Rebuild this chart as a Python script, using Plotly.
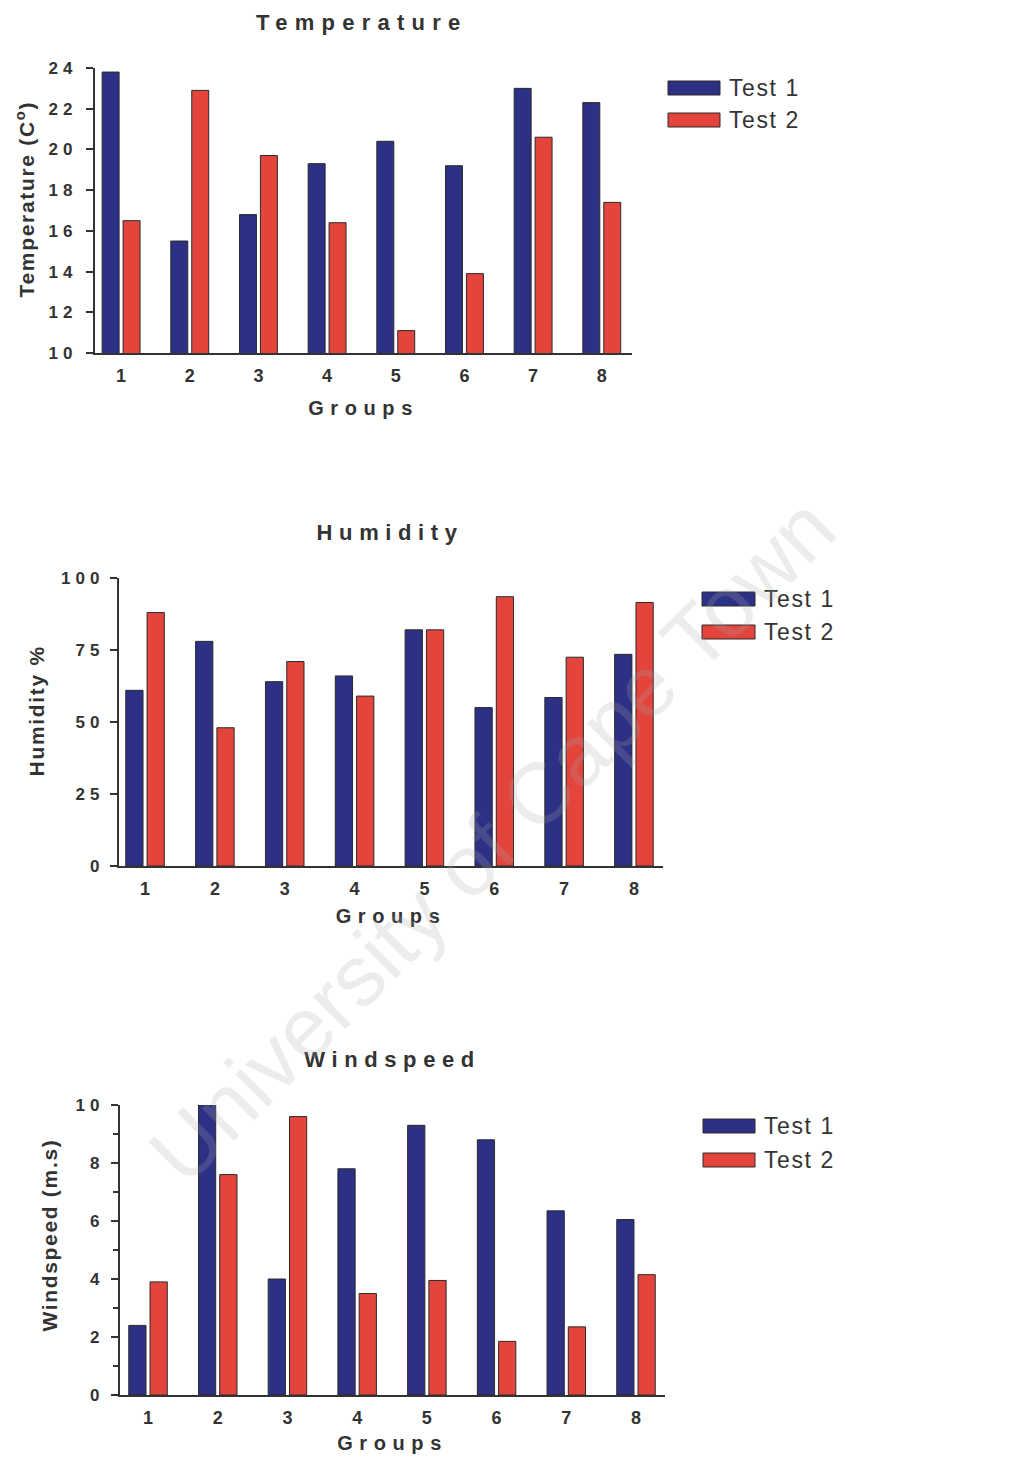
import plotly.graph_objects as go

# ---------------- data ----------------
groups = [1, 2, 3, 4, 5, 6, 7, 8]
series_names = ["Test 1", "Test 2"]

temp_test1 = [23.8, 15.5, 16.8, 19.3, 20.4, 19.2, 23.0, 22.3]
temp_test2 = [16.5, 22.9, 19.7, 16.4, 11.1, 13.9, 20.6, 17.4]

hum_test1 = [61, 78, 64, 66, 82, 55, 58.5, 73.5]
hum_test2 = [88, 48, 71, 59, 82, 93.5, 72.5, 91.5]

wind_test1 = [2.4, 10.0, 4.0, 7.8, 9.3, 8.8, 6.35, 6.05]
wind_test2 = [3.9, 7.6, 9.6, 3.5, 3.95, 1.85, 2.35, 4.15]

chart_titles = ["Temperature", "Humidity", "Windspeed"]
y_titles = ["Temperature (C<sup>o</sup>)", "Humidity %", "Windspeed (m.s)"]
x_title = "Groups"

# ---------------- style ----------------
W, H = 1030, 1457
BLUE = "#2c3186"
RED = "#e3453d"
EDGE = "#2a2a2a"
TXT = "#333333"
FONT = "Liberation Sans, Arial, sans-serif"


def xp(px):
    return px / W


def yp(py):
    return 1 - py / H


panels = [
    dict(vals=(temp_test1, temp_test2), xd=(95, 632), yd=(68, 353), xr=(0.62, 8.44),
         yr=(10, 24), dtick=2, minor=None, title_xy=(362, 22), ytitle_xy=(25, 199),
         xt_standoff=16, leg=(668, 720, 88, 120), tls=5),
    dict(vals=(hum_test1, hum_test2), xd=(119, 663), yd=(578, 866), xr=(0.627, 8.416),
         yr=(0, 100), dtick=25, minor=None, title_xy=(390, 532), ytitle_xy=(36, 711),
         xt_standoff=11, leg=(702, 755, 599, 632), tls=2),
    dict(vals=(wind_test1, wind_test2), xd=(120, 665), yd=(1105, 1395), xr=(0.598, 8.416),
         yr=(0, 10), dtick=2, minor=1, title_xy=(392, 1059), ytitle_xy=(49, 1235),
         xt_standoff=9, leg=(703, 755, 1126, 1160), tls=3),
]

fig = go.Figure()
annotations = []
shapes = []
layout = {}

for i, p in enumerate(panels):
    sfx = "" if i == 0 else str(i + 1)
    xa, ya = "x" + sfx, "y" + sfx
    for name, vals, col in zip(series_names, p["vals"], (BLUE, RED)):
        fig.add_trace(go.Bar(
            x=groups, y=vals, name=name, xaxis=xa, yaxis=ya,
            marker=dict(color=col, line=dict(color=EDGE, width=1)),
            showlegend=False, hoverinfo="skip"))

    layout["xaxis" + sfx] = dict(
        domain=[xp(p["xd"][0]), xp(p["xd"][1])], range=list(p["xr"]), anchor=ya,
        tickmode="array", tickvals=groups, ticktext=[str(g) for g in groups],
        ticks="", showline=True, linewidth=2, linecolor=TXT, showgrid=False,
        zeroline=False, fixedrange=True, ticklabelstandoff=5,
        tickfont=dict(family=FONT, size=18, color=TXT, weight="bold"),
        title=dict(text=x_title, standoff=p["xt_standoff"],
                   font=dict(family=FONT, size=20, color=TXT, weight="bold")))
    ydict = dict(
        domain=[yp(p["yd"][1]), yp(p["yd"][0])], range=list(p["yr"]), anchor=xa,
        dtick=p["dtick"], tick0=0, ticks="outside", ticklen=7, tickwidth=2,
        tickcolor=TXT, showline=True, linewidth=2, linecolor=TXT, showgrid=False,
        zeroline=False, fixedrange=True, ticklabelstandoff=p["tls"],
        tickfont=dict(family=FONT, size=17, color=TXT, weight="bold"))
    if p["minor"]:
        ydict["minor"] = dict(dtick=p["minor"], ticks="outside", ticklen=5,
                              tickwidth=2, tickcolor=TXT, showgrid=False)
    layout["yaxis" + sfx] = ydict

    tx, ty = p["title_xy"]
    annotations.append(dict(
        text=chart_titles[i], x=xp(tx), y=yp(ty), xref="paper", yref="paper",
        xanchor="center", yanchor="middle", showarrow=False,
        font=dict(family=FONT, size=22, color=TXT, weight="bold")))

    yx, yy = p["ytitle_xy"]
    annotations.append(dict(
        text=y_titles[i], x=xp(yx), y=yp(yy), xref="paper", yref="paper",
        xanchor="center", yanchor="middle", showarrow=False, textangle=-90,
        font=dict(family=FONT, size=21, color=TXT, weight="bold")))

    lx0, lx1, ly1, ly2 = p["leg"]
    for (cy, col, name) in ((ly1, BLUE, series_names[0]), (ly2, RED, series_names[1])):
        shapes.append(dict(type="rect", xref="paper", yref="paper",
                           x0=xp(lx0), x1=xp(lx1), y0=yp(cy + 7), y1=yp(cy - 7),
                           fillcolor=col, line=dict(color=EDGE, width=1)))
        annotations.append(dict(
            text=name, x=xp(lx1 + 7), y=yp(cy), xref="paper", yref="paper",
            xanchor="left", yanchor="middle", align="left", showarrow=False,
            font=dict(family=FONT, size=23, color=TXT)))

# watermark of the scanned page
annotations.append(dict(
    text="University of Cape Town", x=xp(492), y=yp(840), xref="paper", yref="paper",
    xanchor="center", yanchor="middle", showarrow=False, textangle=-45,
    font=dict(family=FONT, size=86, color="rgba(170,170,170,0.22)")))

fig.update_layout(
    width=W, height=H, margin=dict(l=0, r=0, t=0, b=0, autoexpand=False),
    paper_bgcolor="white", plot_bgcolor="white",
    barmode="group", bargap=0.39, bargroupgap=0.19,
    showlegend=False, annotations=annotations, shapes=shapes,
    font=dict(family=FONT, color=TXT), **layout)

post = """
var gd = document.getElementById('{plot_id}');
function spacing(){
  var big = {'Temperature':'0.33em','Humidity':'0.3em','Windspeed':'0.3em','Groups':'0.33em',
             'Test 1':'0.07em','Test 2':'0.07em'};
  gd.querySelectorAll('text').forEach(function(t){
    var s = t.textContent;
    if (big.hasOwnProperty(s)) { t.style.letterSpacing = big[s]; }
    else if (s.indexOf('Temperature (') === 0 || s === 'Humidity %' || s.indexOf('Windspeed (') === 0) {
      t.style.letterSpacing = '0.08em';
    }
  });
  gd.querySelectorAll('.ytick text, .y2tick text, .y3tick text').forEach(function(t){
    t.style.letterSpacing = '0.3em';
  });
}
spacing();
gd.on('plotly_afterplot', spacing);
"""

fig.write_html("out.html", post_script=post, config={"displayModeBar": False})
